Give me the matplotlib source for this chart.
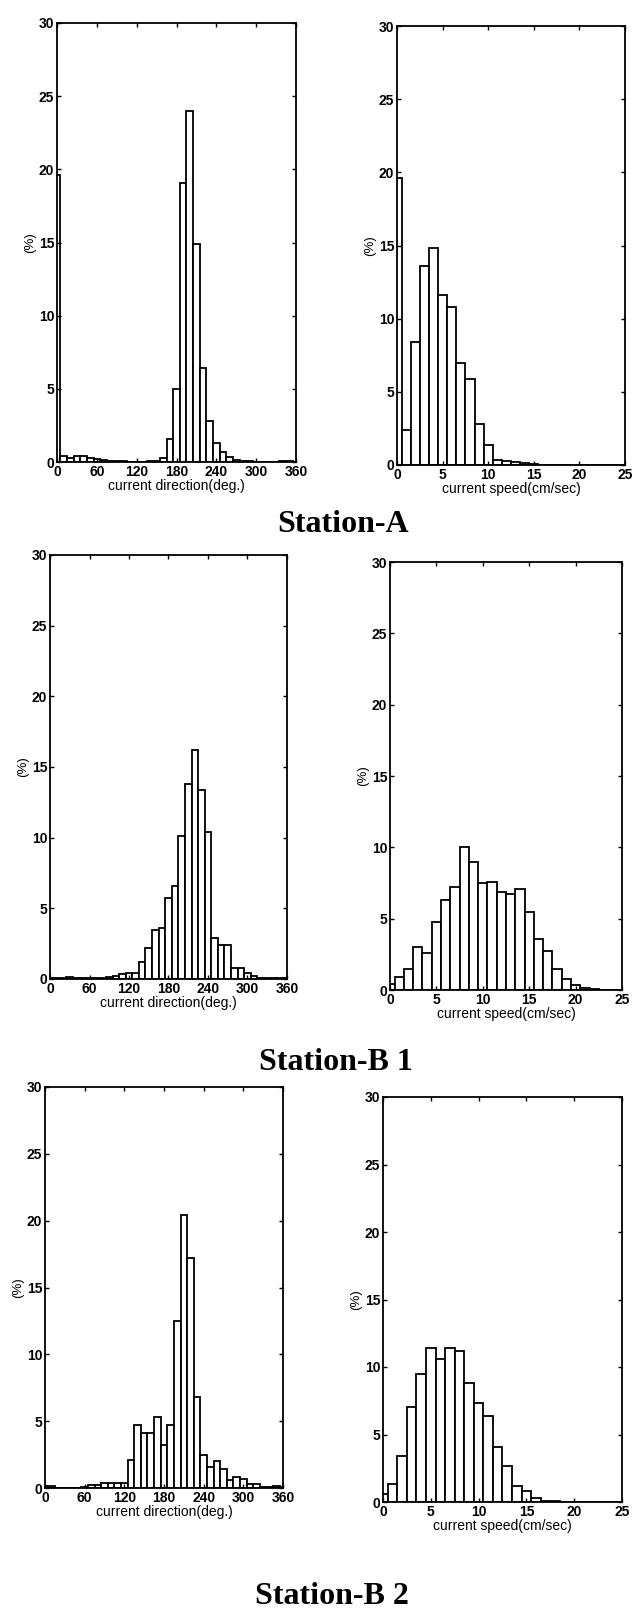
import numpy as np
import matplotlib
matplotlib.use('Agg')
import matplotlib.pyplot as plt

# bin centres of the histograms
dir_bins = np.arange(0, 361, 10)
speed_bins = np.arange(0, 26, 1)

# percentages
a_dir = [19.6, 0.4, 0.3, 0.4, 0.4, 0.3, 0.2, 0.15, 0.1, 0.05, 0.05, 0.03, 0.03, 0.03,
         0.05, 0.1, 0.3, 1.6, 5.0, 19.1, 24.0, 14.9, 6.4, 2.8, 1.3, 0.7, 0.35, 0.15,
         0.08, 0.05, 0.03, 0.03, 0.02, 0.02, 0.05, 0.1, 0.0]
a_speed = [19.6, 2.4, 8.4, 13.6, 14.8, 11.6, 10.8, 7.0, 5.9, 2.8, 1.4, 0.35, 0.25,
           0.2, 0.15, 0.05, 0.03, 0.02, 0.01, 0, 0, 0, 0, 0, 0, 0]

b1_dir = [0.1, 0.1, 0.1, 0.15, 0.1, 0.1, 0.1, 0.1, 0.1, 0.15, 0.2, 0.35, 0.45, 0.45,
          1.2, 2.2, 3.5, 3.6, 5.7, 6.6, 10.1, 13.8, 16.2, 13.4, 10.4, 2.9, 2.4, 2.4,
          0.8, 0.8, 0.4, 0.2, 0.1, 0.05, 0.05, 0.1, 0.05]
b1_speed = [0.4, 0.9, 1.45, 3.0, 2.6, 4.8, 6.3, 7.25, 10.05, 9.0, 7.5, 7.6, 6.85,
            6.7, 7.1, 5.5, 3.6, 2.7, 1.5, 0.8, 0.35, 0.15, 0.05, 0.03, 0, 0]

b2_dir = [0.15, 0.15, 0, 0, 0, 0, 0.1, 0.2, 0.25, 0.35, 0.4, 0.35, 0.4, 2.1, 4.7,
          4.1, 4.1, 5.3, 3.2, 4.7, 12.5, 20.4, 17.2, 6.8, 2.5, 1.6, 2.0, 1.4, 0.6,
          0.85, 0.7, 0.3, 0.3, 0.05, 0.05, 0.15, 0.1]
b2_speed = [0.6, 1.3, 3.4, 7.05, 9.5, 11.4, 10.6, 11.4, 11.15, 8.8, 7.3, 6.35, 4.05,
            2.7, 1.2, 0.8, 0.3, 0.1, 0.05, 0.03, 0.02, 0, 0, 0, 0, 0]

stations = ['Station-A', 'Station-B 1', 'Station-B 2']
dir_ticks = [0, 60, 120, 180, 240, 300, 360]
speed_ticks = [0, 5, 10, 15, 20, 25]
y_ticks = [0, 5, 10, 15, 20, 25, 30]

W, H = 635, 1611
fig = plt.figure(figsize=(W / 100, H / 100), dpi=100)

def axes_px(x0, y0, x1, y1):
    return fig.add_axes([x0 / W, 1 - y1 / H, (x1 - x0) / W, (y1 - y0) / H])

def histogram(ax, bins, values, width, xticks, xlabel):
    ax.bar(bins, values, width=width, color='white', edgecolor='black',
           linewidth=1.3, align='center')
    ax.set_xlim(xticks[0], xticks[-1])
    ax.set_ylim(0, 30)
    ax.set_xticks(xticks)
    ax.set_yticks(y_ticks)
    ax.tick_params(direction='in', top=True, right=True, length=3, width=1,
                   labelsize=10, pad=2)
    for lab in ax.get_xticklabels() + ax.get_yticklabels():
        lab.set_fontfamily('Liberation Sans')
        lab.set_fontweight('bold')
    for s in ax.spines.values():
        s.set_linewidth(1.3)
    ax.set_xlabel(xlabel, fontsize=10, family='Liberation Sans', labelpad=0)
    ax.set_ylabel('(%)', fontsize=9.5, family='Liberation Sans', labelpad=2)

panels = [
    ((57, 23, 296, 462), dir_bins, a_dir, 10, dir_ticks, 'current direction(deg.)'),
    ((397, 26, 625, 465), speed_bins, a_speed, 1, speed_ticks, 'current speed(cm/sec)'),
    ((50, 555, 287, 979), dir_bins, b1_dir, 10, dir_ticks, 'current direction(deg.)'),
    ((390, 562, 622, 990), speed_bins, b1_speed, 1, speed_ticks, 'current speed(cm/sec)'),
    ((45, 1087, 283, 1488), dir_bins, b2_dir, 10, dir_ticks, 'current direction(deg.)'),
    ((383, 1097, 622, 1502), speed_bins, b2_speed, 1, speed_ticks, 'current speed(cm/sec)'),
]

for box, bins, vals, w, xt, xl in panels:
    ax = axes_px(*box)
    histogram(ax, bins, vals, w, xt, xl)

# station titles under each row
title_pos = [(343, 524), (336, 1062), (332, 1597)]
for name, (x, y) in zip(stations, title_pos):
    fig.text(x / W, 1 - y / H, name, ha='center', va='center', fontsize=23,
             fontweight='bold', family='Liberation Serif')

fig.savefig('out.png', dpi=100)
